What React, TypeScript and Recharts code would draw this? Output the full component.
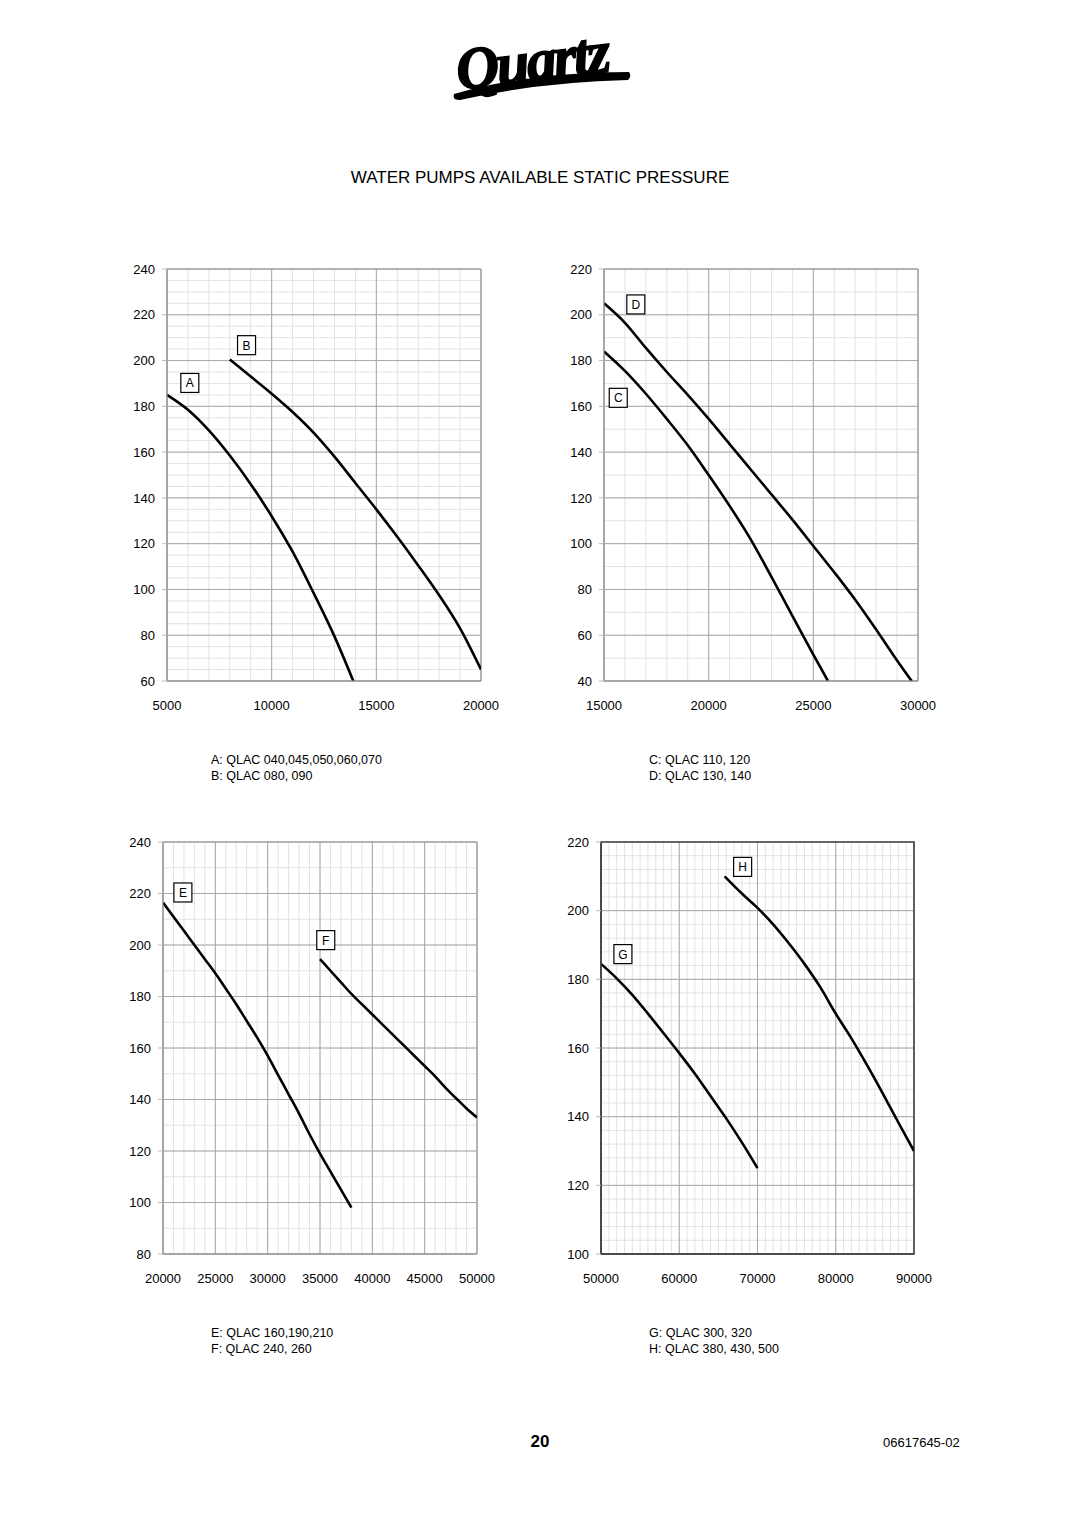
import React from "react";
import {
  CartesianGrid,
  Line,
  LineChart,
  ReferenceArea,
  ReferenceDot,
  XAxis,
  YAxis,
} from "recharts";

// flow (x) and available pressure (y)
const flowA = [5000, 6000, 7000, 8000, 9000, 10000, 11000, 12000, 13000, 13900];
const pressA = [185, 178.5, 169.5, 158.5, 146, 132, 116.5, 98.5, 79.5, 60];

const flowB = [8000, 9000, 10000, 11000, 12000, 13000, 14000, 15000, 16000, 17000, 18000, 19000, 20000];
const pressB = [200.5, 193, 185.5, 177.5, 168.5, 158, 146.5, 135, 123, 110.5, 97.5, 83, 65];

const flowC = [15000, 16000, 17000, 18000, 19000, 20000, 21000, 22000, 23000, 24000, 25000, 25700];
const pressC = [184, 175.5, 165.5, 154.5, 143, 130, 116.5, 102, 85.5, 68.5, 51.5, 40];

const flowD = [15000, 16000, 17000, 18000, 19000, 20000, 21000, 22000, 23000, 24000, 25000, 26000, 27000, 28000, 29000, 29700];
const pressD = [205, 196.5, 185.5, 175, 165, 154.5, 143.5, 132.5, 121.5, 110.5, 99, 87.5, 75.5, 62.5, 49, 40];

const flowE = [20000, 21000, 22000, 23000, 24000, 25000, 26000, 27000, 28000, 29000, 30000, 31000, 32000, 33000, 34000, 35000, 36000, 37000, 38000];
const pressE = [216.5, 211, 205.5, 200, 194.5, 189, 183, 177, 170.5, 164, 157, 149.5, 142, 134.5, 126.5, 119, 112, 105, 98];

const flowF = [35000, 36000, 37000, 38000, 39000, 40000, 41000, 42000, 43000, 44000, 45000, 46000, 47000, 48000, 49000, 50000];
const pressF = [194.5, 190, 185.5, 181, 177, 173, 169, 165, 161, 157, 153, 149, 144.5, 140.5, 136.5, 133];

const flowG = [50000, 52000, 54000, 56000, 58000, 60000, 62000, 64000, 66000, 68000, 70000];
const pressG = [184.5, 180.3, 175.5, 170, 164.3, 158.5, 152.5, 146, 139.5, 132.5, 125];

const flowH = [65800, 68000, 70000, 72000, 74000, 76000, 78000, 80000, 82000, 84000, 86000, 88000, 90000];
const pressH = [210, 205, 200.8, 196, 190.5, 184.5, 177.8, 170, 162.8, 155, 146.8, 138.3, 130];

// tick labels of each panel
const xTicks1 = [5000, 10000, 15000, 20000];
const yTicks1 = [60, 80, 100, 120, 140, 160, 180, 200, 220, 240];
const xTicks2 = [15000, 20000, 25000, 30000];
const yTicks2 = [40, 60, 80, 100, 120, 140, 160, 180, 200, 220];
const xTicks3 = [20000, 25000, 30000, 35000, 40000, 45000, 50000];
const yTicks3 = [80, 100, 120, 140, 160, 180, 200, 220, 240];
const xTicks4 = [50000, 60000, 70000, 80000, 90000];
const yTicks4 = [100, 120, 140, 160, 180, 200, 220];

const legendTop = ["A: QLAC 040,045,050,060,070", "B: QLAC 080, 090"];
const legendTopRight = ["C: QLAC 110, 120", "D: QLAC 130, 140"];
const legendBottom = ["E: QLAC 160,190,210", "F: QLAC 240, 260"];
const legendBottomRight = ["G: QLAC 300, 320", "H: QLAC 380, 430, 500"];

const FONT = "'Liberation Sans', Arial, sans-serif";

const zip = (flow: number[], press: number[]) =>
  flow.map((q, i) => ({ q, p: press[i] }));

const steps = (lo: number, hi: number, step: number) => {
  const out: number[] = [];
  for (let v = lo; v <= hi + 1e-6; v += step) out.push(v);
  return out;
};

type Curve = { name: string; flow: number[]; press: number[]; tag: [number, number] };

type PanelProps = {
  left: number;
  top: number;
  right: number;
  bottom: number;
  xTicks: number[];
  yTicks: number[];
  xMinor: number;
  yMinor: number;
  curves: Curve[];
  frame?: string;
};

const tagShape = (letter: string) => (props: any) => {
  const { cx, cy } = props;
  return (
    <g>
      <rect x={cx - 9} y={cy - 10} width={18} height={19} fill="#fff" stroke="#000" strokeWidth={1.2} />
      <text x={cx} y={cy + 4} textAnchor="middle" fontSize={12} fontFamily={FONT} fill="#000">
        {letter}
      </text>
    </g>
  );
};

const Panel = ({ left, top, right, bottom, xTicks, yTicks, xMinor, yMinor, curves, frame }: PanelProps) => {
  const yW = 67;
  const mTop = 19;
  const mRight = 20;
  const xH = 40;
  const xDom: [number, number] = [xTicks[0], xTicks[xTicks.length - 1]];
  const yDom: [number, number] = [yTicks[0], yTicks[yTicks.length - 1]];
  const border = frame || "#999";
  return (
    <div style={{ position: "absolute", left: left - yW, top: top - mTop }}>
      <LineChart
        width={right - left + yW + mRight}
        height={bottom - top + mTop + xH}
        margin={{ top: mTop, right: mRight, bottom: 0, left: 0 }}
      >
        <CartesianGrid
          stroke="#e2e2e2"
          horizontalValues={steps(yDom[0], yDom[1], yMinor)}
          verticalValues={steps(xDom[0], xDom[1], xMinor)}
        />
        <CartesianGrid stroke="#a8a8a8" horizontalValues={yTicks} verticalValues={xTicks} />
        <XAxis
          dataKey="q"
          type="number"
          domain={xDom}
          ticks={xTicks}
          interval={0}
          allowDataOverflow
          height={xH}
          tickLine={false}
          tickSize={0}
          tickMargin={20}
          axisLine={{ stroke: border, strokeWidth: frame ? 1.6 : 1 }}
          tick={{ fill: "#000", fontSize: 13, fontFamily: FONT }}
        />
        <YAxis
          dataKey="p"
          type="number"
          domain={yDom}
          ticks={yTicks}
          interval={0}
          allowDataOverflow
          width={yW}
          tickSize={5}
          tickMargin={7}
          tickLine={{ stroke: "#bbb" }}
          axisLine={{ stroke: border, strokeWidth: frame ? 1.6 : 1 }}
          tick={{ fill: "#000", fontSize: 13, fontFamily: FONT }}
        />
        <ReferenceArea
          x1={xDom[0]}
          x2={xDom[1]}
          y1={yDom[0]}
          y2={yDom[1]}
          fill="none"
          stroke={border}
          strokeWidth={frame ? 1.6 : 1}
        />
        {curves.map((c) => (
          <Line
            key={c.name}
            data={zip(c.flow, c.press)}
            dataKey="p"
            type="monotone"
            stroke="#000"
            strokeWidth={2.6}
            dot={false}
            isAnimationActive={false}
          />
        ))}
        {curves.map((c) => (
          <ReferenceDot key={"t" + c.name} x={c.tag[0]} y={c.tag[1]} r={0} shape={tagShape(c.name)} />
        ))}
      </LineChart>
    </div>
  );
};

const Legend2 = ({ lines, x, y }: { lines: string[]; x: number; y: number }) => (
  <div
    style={{
      position: "absolute",
      left: x,
      top: y,
      fontFamily: FONT,
      fontSize: 12.5,
      lineHeight: "16px",
      color: "#000",
      whiteSpace: "nowrap",
    }}
  >
    {lines.map((l) => (
      <div key={l}>{l}</div>
    ))}
  </div>
);

const Logo = () => (
  <svg style={{ position: "absolute", left: 420, top: 0 }} width={250} height={115}>
    <text
      x={36}
      y={80}
      fontFamily="'Liberation Serif', serif"
      fontStyle="italic"
      fontWeight="bold"
      fontSize={60}
      transform="rotate(-7 120 65)"
      fill="#000"
      stroke="#000"
      strokeWidth={1.5}
      letterSpacing={-3}
    >
      Quartz
    </text>
    <path d="M34 94 Q 110 72 209 72 Q 212 76 208 80 Q 120 82 40 100 Q 32 100 34 94 Z" fill="#000" />
  </svg>
);

export default function App() {
  return (
    <div
      style={{
        position: "absolute",
        left: 0,
        top: 0,
        width: 1080,
        height: 1528,
        background: "#fff",
        fontFamily: FONT,
      }}
    >
      <Logo />
      <div
        style={{
          position: "absolute",
          left: 0,
          width: 1080,
          top: 168,
          textAlign: "center",
          fontSize: 17,
          color: "#000",
        }}
      >
        WATER PUMPS AVAILABLE STATIC PRESSURE
      </div>

      <Panel
        left={167}
        top={269}
        right={481}
        bottom={681}
        xTicks={xTicks1}
        yTicks={yTicks1}
        xMinor={1000}
        yMinor={5}
        curves={[
          { name: "A", flow: flowA, press: pressA, tag: [6090, 190] },
          { name: "B", flow: flowB, press: pressB, tag: [8800, 206.5] },
        ]}
      />
      <Panel
        left={604}
        top={269}
        right={918}
        bottom={681}
        xTicks={xTicks2}
        yTicks={yTicks2}
        xMinor={1000}
        yMinor={10}
        curves={[
          { name: "C", flow: flowC, press: pressC, tag: [15680, 163.5] },
          { name: "D", flow: flowD, press: pressD, tag: [16520, 204.3] },
        ]}
      />
      <Panel
        left={163}
        top={842}
        right={477}
        bottom={1254}
        xTicks={xTicks3}
        yTicks={yTicks3}
        xMinor={1000}
        yMinor={10}
        curves={[
          { name: "E", flow: flowE, press: pressE, tag: [21900, 220.2] },
          { name: "F", flow: flowF, press: pressF, tag: [35550, 201.7] },
        ]}
      />
      <Panel
        left={601}
        top={842}
        right={914}
        bottom={1254}
        xTicks={xTicks4}
        yTicks={yTicks4}
        xMinor={1000}
        yMinor={4}
        frame="#444"
        curves={[
          { name: "G", flow: flowG, press: pressG, tag: [52800, 187.2] },
          { name: "H", flow: flowH, press: pressH, tag: [68100, 212.6] },
        ]}
      />

      <Legend2 lines={legendTop} x={211} y={752} />
      <Legend2 lines={legendTopRight} x={649} y={752} />
      <Legend2 lines={legendBottom} x={211} y={1325} />
      <Legend2 lines={legendBottomRight} x={649} y={1325} />

      <div style={{ position: "absolute", left: 520, top: 1432, width: 40, textAlign: "center", fontSize: 17, fontWeight: "bold" }}>
        20
      </div>
      <div style={{ position: "absolute", left: 883, top: 1435, fontSize: 13 }}>06617645-02</div>
    </div>
  );
}
